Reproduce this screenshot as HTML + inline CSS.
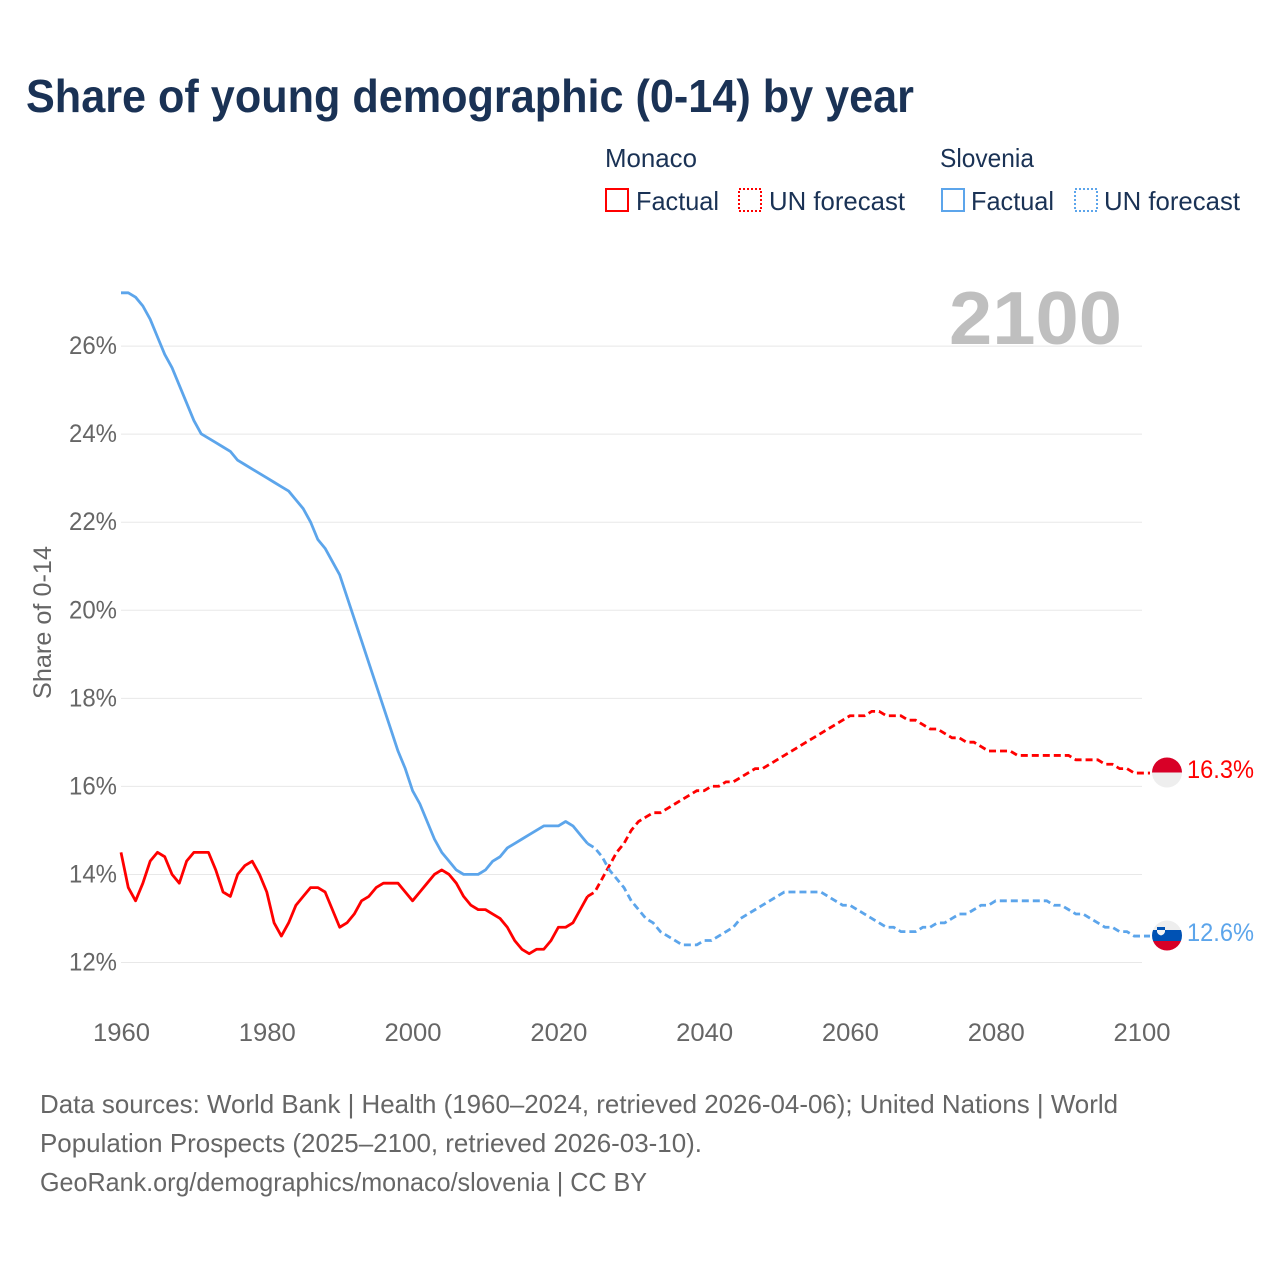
<!DOCTYPE html>
<html lang="en">
<head>
<meta charset="utf-8">
<title>Share of young demographic (0-14) by year</title>
<style>
html,body{margin:0;padding:0;background:#fff;width:1280px;height:1280px;overflow:hidden}
svg{display:block}
text{font-family:"Liberation Sans",sans-serif}
</style>
</head>
<body>
<svg id="chart" xmlns="http://www.w3.org/2000/svg" width="1280" height="1280" viewBox="0 0 1280 1280">
  <defs>
    <clipPath id="clip-monaco"><circle cx="1167" cy="772.5" r="15"/></clipPath>
    <clipPath id="clip-slovenia"><circle cx="1167" cy="935.5" r="15"/></clipPath>
  </defs>
  <rect width="1280" height="1280" fill="#fff"/>
  <text x="26" y="112" font-size="46" font-weight="700" fill="#1a3255" textLength="888" lengthAdjust="spacingAndGlyphs">Share of young demographic (0-14) by year</text>

  <g font-size="26" fill="#1a3255">
    <text x="605" y="167" textLength="92" lengthAdjust="spacingAndGlyphs">Monaco</text>
    <rect x="606" y="189" width="22" height="22" fill="none" stroke="#ff0000" stroke-width="2"/>
    <text x="636" y="210" textLength="83" lengthAdjust="spacingAndGlyphs">Factual</text>
    <rect x="739" y="189" width="22" height="22" fill="none" stroke="#ff0000" stroke-width="2" stroke-dasharray="2 2"/>
    <text x="769" y="210" textLength="136" lengthAdjust="spacingAndGlyphs">UN forecast</text>
    <text x="940" y="167" textLength="94" lengthAdjust="spacingAndGlyphs">Slovenia</text>
    <rect x="942" y="189" width="22" height="22" fill="none" stroke="#5ca5eb" stroke-width="2"/>
    <text x="971" y="210" textLength="83" lengthAdjust="spacingAndGlyphs">Factual</text>
    <rect x="1075" y="189" width="22" height="22" fill="none" stroke="#5ca5eb" stroke-width="2" stroke-dasharray="2 2"/>
    <text x="1104" y="210" textLength="136" lengthAdjust="spacingAndGlyphs">UN forecast</text>
  </g>

  <g id="grid"></g>
  <text x="949" y="344" font-size="75" font-weight="700" fill="#bfbfbf" textLength="173" lengthAdjust="spacingAndGlyphs">2100</text>
  <g id="y-axis"></g>
  <g id="x-axis"></g>
  <text transform="translate(51,622.5) rotate(-90)" text-anchor="middle" font-size="25" fill="#666" textLength="153" lengthAdjust="spacingAndGlyphs">Share of 0-14</text>
  <g id="series"></g>

  <g clip-path="url(#clip-monaco)">
    <rect x="1150" y="755" width="34" height="17.5" fill="#d80027"/>
    <rect x="1150" y="772.5" width="34" height="17.5" fill="#eeeeee"/>
  </g>
  <g clip-path="url(#clip-slovenia)">
    <rect x="1150" y="918" width="34" height="12" fill="#eeeeee"/>
    <rect x="1150" y="930" width="34" height="11" fill="#0052b4"/>
    <rect x="1150" y="941" width="34" height="12" fill="#d80027"/>
    <path d="M1157 927h8v3h-8z" fill="#0052b4"/>
    <path d="M1157 930h8v1.500q0 2.500-4 4q-4-1.500-4-4z" fill="#f4f4f4"/>
  </g>
  <text id="label-monaco" x="1187" y="778" font-size="25" fill="#ff0000" textLength="67" lengthAdjust="spacingAndGlyphs"></text>
  <text id="label-slovenia" x="1187" y="941" font-size="25" fill="#5ca5eb" textLength="67" lengthAdjust="spacingAndGlyphs"></text>

  <g font-size="26" fill="#666">
    <text x="40" y="1113" textLength="1078" lengthAdjust="spacingAndGlyphs">Data sources: World Bank | Health (1960–2024, retrieved 2026-04-06); United Nations | World</text>
    <text x="40" y="1152" textLength="662" lengthAdjust="spacingAndGlyphs">Population Prospects (2025–2100, retrieved 2026-03-10).</text>
    <text x="40" y="1191" textLength="607" lengthAdjust="spacingAndGlyphs">GeoRank.org/demographics/monaco/slovenia | CC BY</text>
  </g>
</svg>
<script>
const yTicks = [12, 14, 16, 18, 20, 22, 24, 26];
const xTicks = [1960, 1980, 2000, 2020, 2040, 2060, 2080, 2100];
const factualStartYear = 1960;
const forecastStartYear = 2025;
const monacoFactual = [
  14.5,13.7,13.4,13.8,14.3,14.5,14.4,14.0,13.8,14.3,
  14.5,14.5,14.5,14.1,13.6,13.5,14.0,14.2,14.3,14.0,
  13.6,12.9,12.6,12.9,13.3,13.5,13.7,13.7,13.6,13.2,
  12.8,12.9,13.1,13.4,13.5,13.7,13.8,13.8,13.8,13.6,
  13.4,13.6,13.8,14.0,14.1,14.0,13.8,13.5,13.3,13.2,
  13.2,13.1,13.0,12.8,12.5,12.3,12.2,12.3,12.3,12.5,
  12.8,12.8,12.9,13.2,13.5
];
const monacoForecast = [
  13.6,13.9,14.2,14.5,14.7,
  15.0,15.2,15.3,15.4,15.4,15.5,15.6,15.7,15.8,15.9,
  15.9,16.0,16.0,16.1,16.1,16.2,16.3,16.4,16.4,16.5,
  16.6,16.7,16.8,16.9,17.0,17.1,17.2,17.3,17.4,17.5,
  17.6,17.6,17.6,17.7,17.7,17.6,17.6,17.6,17.5,17.5,
  17.4,17.3,17.3,17.2,17.1,17.1,17.0,17.0,16.9,16.8,
  16.8,16.8,16.8,16.7,16.7,16.7,16.7,16.7,16.7,16.7,
  16.7,16.6,16.6,16.6,16.6,16.5,16.5,16.4,16.4,16.3,
  16.3
];
const sloveniaFactual = [
  27.2,27.2,27.1,26.9,26.6,26.2,25.8,25.5,25.1,24.7,
  24.3,24.0,23.9,23.8,23.7,23.6,23.4,23.3,23.2,23.1,
  23.0,22.9,22.8,22.7,22.5,22.3,22.0,21.6,21.4,21.1,
  20.8,20.3,19.8,19.3,18.8,18.3,17.8,17.3,16.8,16.4,
  15.9,15.6,15.2,14.8,14.5,14.3,14.1,14.0,14.0,14.0,
  14.1,14.3,14.4,14.6,14.7,14.8,14.9,15.0,15.1,15.1,
  15.1,15.2,15.1,14.9,14.7
];
const sloveniaForecast = [
  14.6,14.4,14.1,13.9,13.7,
  13.4,13.2,13.0,12.9,12.7,12.6,12.5,12.4,12.4,12.4,
  12.5,12.5,12.6,12.7,12.8,13.0,13.1,13.2,13.3,13.4,
  13.5,13.6,13.6,13.6,13.6,13.6,13.6,13.5,13.4,13.3,
  13.3,13.2,13.1,13.0,12.9,12.8,12.8,12.7,12.7,12.7,
  12.8,12.8,12.9,12.9,13.0,13.1,13.1,13.2,13.3,13.3,
  13.4,13.4,13.4,13.4,13.4,13.4,13.4,13.4,13.3,13.3,
  13.2,13.1,13.1,13.0,12.9,12.8,12.8,12.7,12.7,12.6,
  12.6
];

const SVGNS = 'http://www.w3.org/2000/svg';
const xScale = function (year) { return 121 + (year - 1960) * (1141.5 - 121) / 140; };
const yScale = function (v) { return 962.5 - (v - 12) * 44.06; };
const gridY = function (v) { return 962.5 - (v - 12) * 44.03; };
const LINE_END_X = 1150;

function make(tag, parent) {
  const el = document.createElementNS(SVGNS, tag);
  parent.appendChild(el);
  return el;
}
function linePath(startYear, values, prefix) {
  let d = prefix || '';
  values.forEach(function (v, i) {
    d += (d ? 'L' : 'M') + xScale(startYear + i).toFixed(2) + ' ' + yScale(v).toFixed(2);
  });
  return d;
}

const grid = document.getElementById('grid');
const yAxis = document.getElementById('y-axis');
const xAxis = document.getElementById('x-axis');
const series = document.getElementById('series');

yTicks.forEach(function (t) {
  const line = make('line', grid);
  
  
  line.setAttribute('x1', 121);
  line.setAttribute('x2', 1142);
  line.setAttribute('y1', gridY(t));
  line.setAttribute('y2', gridY(t));
  line.setAttribute('stroke', '#e8e8e8');
  line.setAttribute('stroke-width', 1);
  const label = make('text', yAxis);
  
  
  label.setAttribute('x', 69);
  label.setAttribute('y', gridY(t) + 8);
  label.setAttribute('font-size', 25);
  label.setAttribute('fill', '#666');
  label.setAttribute('textLength', 48);
  label.setAttribute('lengthAdjust', 'spacingAndGlyphs');
  label.textContent = t + '%';
});

xTicks.forEach(function (t) {
  const label = make('text', xAxis);
  
  
  label.setAttribute('x', xScale(t) + 0.5);
  label.setAttribute('y', 1041);
  label.setAttribute('font-size', 25);
  label.setAttribute('fill', '#666');
  label.setAttribute('text-anchor', 'middle');
  label.setAttribute('textLength', 57);
  label.setAttribute('lengthAdjust', 'spacingAndGlyphs');
  label.textContent = t;
});

function drawSeries(factual, forecast, color, nameFactual, nameForecast) {
  const solid = make('path', series);
  
  
  solid.setAttribute('d', linePath(factualStartYear, factual));
  solid.setAttribute('fill', 'none');
  solid.setAttribute('stroke', color);
  solid.setAttribute('stroke-width', 2.8);
  solid.setAttribute('stroke-linejoin', 'round');
  const last = factual[factual.length - 1];
  const lastYear = factualStartYear + factual.length - 1;
  const tail = forecast[forecast.length - 1];
  const head = 'M' + xScale(lastYear).toFixed(2) + ' ' + yScale(last).toFixed(2);
  const dashed = make('path', series);
  
  
  dashed.setAttribute('d', linePath(forecastStartYear, forecast, head) + 'L' + LINE_END_X + ' ' + yScale(tail).toFixed(2));
  dashed.setAttribute('fill', 'none');
  dashed.setAttribute('stroke', color);
  dashed.setAttribute('stroke-width', 2.8);
  dashed.setAttribute('stroke-dasharray', '7 4');
}
drawSeries(monacoFactual, monacoForecast, '#ff0000', 'monaco-factual-line', 'monaco-forecast-line');
drawSeries(sloveniaFactual, sloveniaForecast, '#5ca5eb', 'slovenia-factual-line', 'slovenia-forecast-line');

document.getElementById('label-monaco').textContent = monacoForecast[monacoForecast.length - 1].toFixed(1) + '%';
document.getElementById('label-slovenia').textContent = sloveniaForecast[sloveniaForecast.length - 1].toFixed(1) + '%';
</script>
</body>
</html>
